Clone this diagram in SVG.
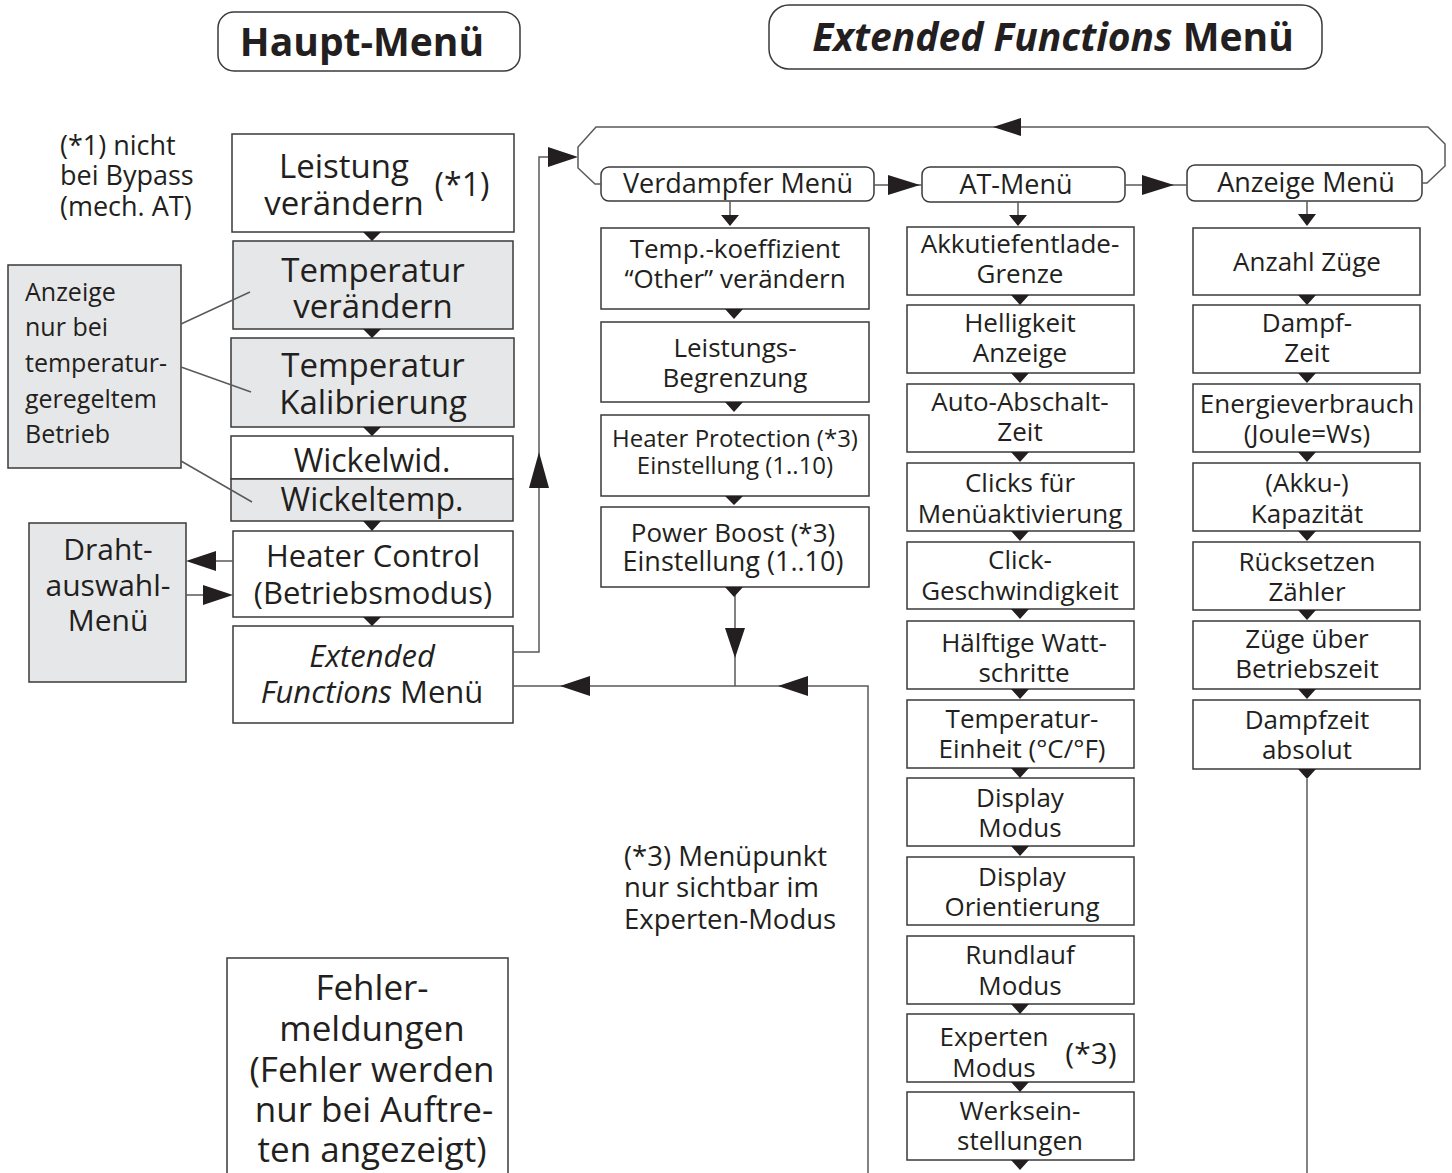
<svg xmlns="http://www.w3.org/2000/svg" width="1452" height="1173" viewBox="0 0 1452 1173">
<style>
.bx{fill:#fff;stroke:#3a3a3a;stroke-width:1.5}
.gb{fill:#e6e7e8;stroke:#3a3a3a;stroke-width:1.5}
.t{font-family:"Open Sans","Liberation Sans",sans-serif;fill:#231f20;text-anchor:middle}
.tl{font-family:"Open Sans","Liberation Sans",sans-serif;fill:#231f20;text-anchor:start}
.ln{fill:none;stroke:#5a5a5a;stroke-width:1.5}
.ah{fill:#231f20}
.s26{font-size:26px}
.s33{font-size:33px}
</style>
<rect width="1452" height="1173" fill="#fff"/>

<g id="hdr-haupt">
<rect class="bx" x="218" y="12" width="302" height="59" rx="16"/>
<text class="t" x="362" y="56" font-size="39" font-weight="bold">Haupt-Menü</text>
</g>
<g id="hdr-ext">
<rect class="bx" x="769" y="5" width="553" height="64" rx="20"/>
<text class="t" x="1053" y="51" font-size="39" font-weight="bold"><tspan font-style="italic">Extended Functions</tspan> Menü</text>
</g>

<g id="note1">
<text class="tl" x="60" y="155" font-size="27">(*1) nicht</text>
<text class="tl" x="60" y="185" font-size="27">bei Bypass</text>
<text class="tl" x="60" y="216" font-size="27">(mech. AT)</text>
</g>
<g id="note-temp">
<rect class="gb" x="8" y="265" width="173" height="203"/>
<text class="tl" x="25" y="301" font-size="25">Anzeige</text>
<text class="tl" x="25" y="336" font-size="25">nur bei</text>
<text class="tl" x="25" y="372" font-size="25">temperatur-</text>
<text class="tl" x="25" y="408" font-size="25">geregeltem</text>
<text class="tl" x="25" y="443" font-size="25">Betrieb</text>
</g>

<g id="m1">
<rect class="bx" x="232" y="134" width="282" height="98"/>
<text class="t s33" x="344" y="178">Leistung</text>
<text class="t s33" x="344" y="215">verändern</text>
<text class="t" x="462" y="196" font-size="32">(*1)</text>
</g>
<g id="m2">
<rect class="gb" x="233" y="241" width="280" height="88"/>
<text class="t s33" x="373" y="282">Temperatur</text>
<text class="t s33" x="373" y="318">verändern</text>
</g>
<g id="m3">
<rect class="gb" x="231" y="338" width="283" height="89"/>
<text class="t s33" x="373" y="377">Temperatur</text>
<text class="t s33" x="373" y="414">Kalibrierung</text>
</g>
<g id="m4">
<rect class="bx" x="231" y="436" width="282" height="43"/>
<text class="t" x="372" y="472" font-size="32">Wickelwid.</text>
<rect class="gb" x="231" y="479" width="282" height="42"/>
<text class="t" x="372" y="511" font-size="32">Wickeltemp.</text>
</g>
<g id="m5">
<rect class="bx" x="233" y="531" width="280" height="86"/>
<text class="t" x="373" y="567" font-size="31">Heater Control</text>
<text class="t" x="373" y="604" font-size="31">(Betriebsmodus)</text>
</g>
<g id="m6">
<rect class="bx" x="233" y="626" width="280" height="97"/>
<text class="t" x="372" y="667" font-size="31" font-style="italic">Extended</text>
<text class="t" x="372" y="703" font-size="31"><tspan font-style="italic">Functions</tspan> Menü</text>
</g>
<g id="draht">
<rect class="gb" x="29" y="523" width="157" height="159"/>
<text class="t" x="108" y="560" font-size="30">Draht-</text>
<text class="t" x="108" y="596" font-size="30">auswahl-</text>
<text class="t" x="108" y="631" font-size="30">Menü</text>
</g>

<g id="v0">
<rect class="bx" x="601" y="167" width="273" height="34" rx="8"/>
<text class="t" x="738" y="193" font-size="27">Verdampfer Menü</text>
</g>
<g id="a0">
<rect class="bx" x="922" y="167" width="203" height="35" rx="8"/>
<text class="t" x="1016" y="194" font-size="27">AT-Menü</text>
</g>
<g id="z0">
<rect class="bx" x="1187" y="165" width="235" height="36" rx="8"/>
<text class="t" x="1306" y="192" font-size="27">Anzeige Menü</text>
</g>

<g id="v1"><rect class="bx" x="601" y="228" width="268" height="81"/>
<text class="t s26" x="735" y="258">Temp.-koeffizient</text><text class="t s26" x="735" y="288">“Other” verändern</text></g>
<g id="v2"><rect class="bx" x="601" y="322" width="268" height="80"/>
<text class="t s26" x="735" y="357">Leistungs-</text><text class="t s26" x="735" y="387">Begrenzung</text></g>
<g id="v3"><rect class="bx" x="601" y="415" width="268" height="81"/>
<text class="t" x="735" y="447" font-size="24">Heater Protection (*3)</text><text class="t" x="735" y="474" font-size="24">Einstellung (1..10)</text></g>
<g id="v4"><rect class="bx" x="601" y="507" width="268" height="80"/>
<text class="t s26" x="733" y="542">Power Boost (*3)</text><text class="t" x="733" y="571" font-size="27">Einstellung (1..10)</text></g>

<g id="a1"><rect class="bx" x="907" y="227" width="227" height="68"/>
<text class="t s26" x="1020" y="253">Akkutiefentlade-</text><text class="t s26" x="1020" y="283">Grenze</text></g>
<g id="a2"><rect class="bx" x="907" y="305" width="227" height="68"/>
<text class="t s26" x="1020" y="332">Helligkeit</text><text class="t s26" x="1020" y="362">Anzeige</text></g>
<g id="a3"><rect class="bx" x="907" y="384" width="227" height="68"/>
<text class="t s26" x="1020" y="411">Auto-Abschalt-</text><text class="t s26" x="1020" y="441">Zeit</text></g>
<g id="a4"><rect class="bx" x="907" y="463" width="227" height="68"/>
<text class="t s26" x="1020" y="492">Clicks für</text><text class="t s26" x="1020" y="523">Menüaktivierung</text></g>
<g id="a5"><rect class="bx" x="907" y="542" width="227" height="67"/>
<text class="t s26" x="1020" y="569">Click-</text><text class="t s26" x="1020" y="600">Geschwindigkeit</text></g>
<g id="a6"><rect class="bx" x="907" y="621" width="227" height="68"/>
<text class="t s26" x="1024" y="652">Hälftige Watt-</text><text class="t s26" x="1024" y="682">schritte</text></g>
<g id="a7"><rect class="bx" x="907" y="700" width="227" height="68"/>
<text class="t s26" x="1022" y="728">Temperatur-</text><text class="t s26" x="1022" y="758">Einheit (°C/°F)</text></g>
<g id="a8"><rect class="bx" x="907" y="778" width="227" height="68"/>
<text class="t s26" x="1020" y="807">Display</text><text class="t s26" x="1020" y="837">Modus</text></g>
<g id="a9"><rect class="bx" x="907" y="857" width="227" height="68"/>
<text class="t s26" x="1022" y="886">Display</text><text class="t s26" x="1022" y="916">Orientierung</text></g>
<g id="a10"><rect class="bx" x="907" y="936" width="227" height="68"/>
<text class="t s26" x="1020" y="964">Rundlauf</text><text class="t s26" x="1020" y="995">Modus</text></g>
<g id="a11"><rect class="bx" x="907" y="1014" width="227" height="68"/>
<text class="t s26" x="994" y="1046">Experten</text><text class="t s26" x="994" y="1077">Modus</text>
<text class="t" x="1091" y="1064" font-size="30">(*3)</text></g>
<g id="a12"><rect class="bx" x="907" y="1092" width="227" height="68"/>
<text class="t s26" x="1020" y="1120">Werksein-</text><text class="t s26" x="1020" y="1150">stellungen</text></g>

<g id="z1"><rect class="bx" x="1193" y="228" width="227" height="67"/>
<text class="t s26" x="1307" y="271">Anzahl Züge</text></g>
<g id="z2"><rect class="bx" x="1193" y="305" width="227" height="68"/>
<text class="t s26" x="1307" y="332">Dampf-</text><text class="t s26" x="1307" y="362">Zeit</text></g>
<g id="z3"><rect class="bx" x="1193" y="384" width="227" height="68"/>
<text class="t s26" x="1307" y="413">Energieverbrauch</text><text class="t s26" x="1307" y="443">(Joule=Ws)</text></g>
<g id="z4"><rect class="bx" x="1193" y="463" width="227" height="68"/>
<text class="t s26" x="1307" y="492">(Akku-)</text><text class="t s26" x="1307" y="523">Kapazität</text></g>
<g id="z5"><rect class="bx" x="1193" y="542" width="227" height="68"/>
<text class="t s26" x="1307" y="571">Rücksetzen</text><text class="t s26" x="1307" y="601">Zähler</text></g>
<g id="z6"><rect class="bx" x="1193" y="621" width="227" height="68"/>
<text class="t s26" x="1307" y="648">Züge über</text><text class="t s26" x="1307" y="678">Betriebszeit</text></g>
<g id="z7"><rect class="bx" x="1193" y="700" width="227" height="69"/>
<text class="t s26" x="1307" y="729">Dampfzeit</text><text class="t s26" x="1307" y="759">absolut</text></g>

<g id="note3">
<text class="tl" x="624" y="866" font-size="27.5">(*3) Menüpunkt</text>
<text class="tl" x="624" y="897" font-size="27.5">nur sichtbar im</text>
<text class="tl" x="624" y="929" font-size="27.5">Experten-Modus</text>
</g>

<g id="fehler">
<rect class="bx" x="227" y="958" width="281" height="240"/>
<text class="t" x="372" y="1000" font-size="35">Fehler-</text>
<text class="t" x="372" y="1041" font-size="35">meldungen</text>
<text class="t" x="372" y="1082" font-size="35">(Fehler werden</text>
<text class="t" x="374" y="1122" font-size="35">nur bei Auftre-</text>
<text class="t" x="372" y="1162" font-size="35">ten angezeigt)</text>
</g>

<g id="connectors">
<path class="ln" stroke-width="1" d="M181,324 L250,292 M181,367 L251,392 M181,461 L252,502"/>
<path class="ah" d="M363,232 H381 L372,241 Z M363,329 H381 L372,338 Z M363,427 H381 L372,436 Z M363,521 H381 L372,531 Z M363,617 H381 L372,626 Z"/>
<path class="ln" d="M215,561 H233 M186,595 H204"/>
<path class="ah" d="M186,561 L216,551 L216,571 Z M233,595 L203,585 L203,605 Z"/>
<path class="ln" d="M513,652 H539 V157 H550"/>
<path class="ah" d="M578,157 L548,147 L548,167 Z M539,452 L529,488 L549,488 Z"/>
<path class="ln" d="M513,686 H868 V1173 M735,587 V686"/>
<path class="ah" d="M560,686 L590,676 L590,696 Z M778,686 L808,676 L808,696 Z M735,658 L725,628 L745,628 Z"/>
<path class="ln" d="M601,184 H595 L578,168 V147 L596,127 H1428 L1445,144 V166 L1427,183 H1422"/>
<path class="ah" d="M993,127 L1021,118 L1021,136 Z"/>
<path class="ln" d="M874,185 H890 M916,185 H922 M1125,185 H1144 M1170,185 H1187"/>
<path class="ah" d="M920,185 L888,175 L888,195 Z M1174,185 L1142,175 L1142,195 Z"/>
<path class="ln" d="M730,201 V216 M1018,202 V216 M1307,201 V216"/>
<path class="ah" d="M721,215 H739 L730,226 Z M1009,215 H1027 L1018,226 Z M1298,214 H1316 L1307,226 Z"/>
<path class="ah" d="M725,309 H743 L734,319 Z M725,402 H743 L734,412 Z M725,496 H743 L734,505 Z M725,587 H743 L734,597 Z"/>
<path class="ah" d="M1011,295 H1029 L1020,305 Z M1011,373 H1029 L1020,383 Z M1011,452 H1029 L1020,462 Z M1011,531 H1029 L1020,541 Z M1011,609 H1029 L1020,619 Z M1011,689 H1029 L1020,699 Z M1011,768 H1029 L1020,778 Z M1011,846 H1029 L1020,856 Z M1011,1004 H1029 L1020,1014 Z M1011,1082 H1029 L1020,1092 Z M1011,1160 H1029 L1020,1170 Z"/>
<path class="ah" d="M1298,295 H1316 L1307,305 Z M1298,373 H1316 L1307,383 Z M1298,452 H1316 L1307,462 Z M1298,531 H1316 L1307,541 Z M1298,610 H1316 L1307,620 Z M1298,689 H1316 L1307,699 Z M1298,769 H1316 L1307,779 Z"/>
<path class="ln" d="M1307,779 V1173"/>
</g>
</svg>
